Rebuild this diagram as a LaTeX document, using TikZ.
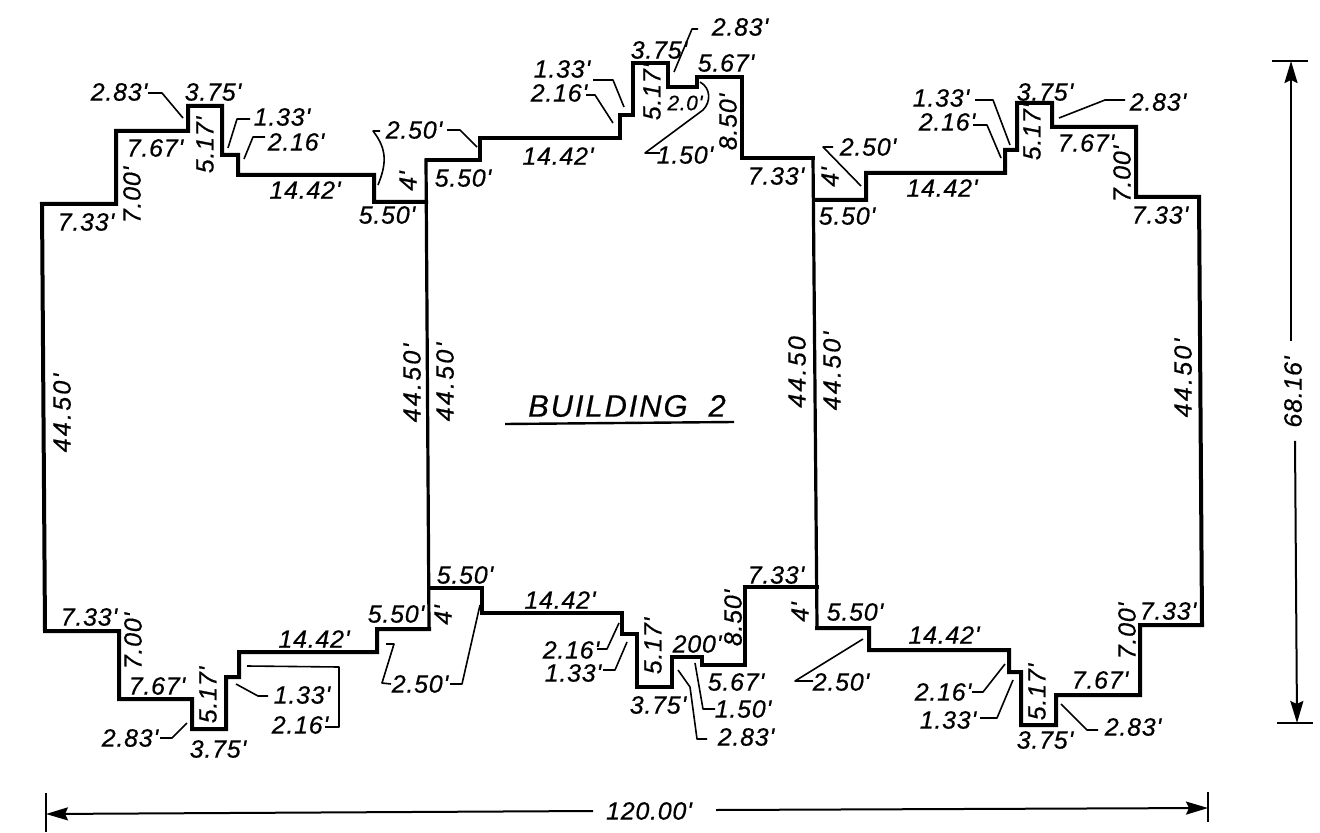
\documentclass[tikz,border=0pt]{standalone}
\usepackage{fontspec}
\usetikzlibrary{arrows.meta}
\newfontfamily\dimfont[LetterSpace=3,FakeBold=0.5]{Liberation Sans Italic}
\newfontfamily\dimwide[LetterSpace=9,FakeBold=0.5]{Liberation Sans Italic}
\newfontfamily\titlefont[LetterSpace=6,FakeBold=0.5]{Liberation Sans Italic}
\tikzset{
  wallthick/.style={line width=2pt,line join=miter,line cap=rect},
  wallmid/.style={line width=1.6pt,line join=miter,line cap=rect},
  wallinner/.style={line width=1.6pt,line cap=rect},
  leader/.style={line width=0.8pt,line join=round},
  dimline/.style={line width=1pt},
  dimtick/.style={line width=1.2pt},
  dimtip/.style={-{Stealth[length=11pt,width=6.5pt,inset=1.5pt]}},
  lab/.style={inner sep=0pt,font=\dimfont\fontsize{12.5}{12.5}\selectfont},
  rlab/.style={lab,rotate=90},
  rwide/.style={inner sep=0pt,rotate=90,font=\dimwide\fontsize{12.5}{12.5}\selectfont},
}
\newcommand{\lab}[4]{\node[lab] (#1) at (#2,#3) {#4};}
\newcommand{\rlab}[4]{\node[rlab] (#1) at (#2,#3) {#4};}
\newcommand{\rwlab}[4]{\node[rwide] (#1) at (#2,#3) {#4};}
\begin{document}
\begin{tikzpicture}[x=0.5pt,y=-0.5pt]
\useasboundingbox (0,0) rectangle (1320,833);
% outlines
\draw[wallthick] (426,202)--(374,202)--(374,175)--(238,175)--(238,155)--(222,155)--(222,106)--(188,106)--(188,131)--(116,131)--(116,204)--(42,204)--(45,631)--(119,631)--(119,699)--(192,699)--(192,729)--(226,729)--(226,677)--(239,677)--(239,652)--(377,652)--(377,629)--(429,629);
\draw[wallinner] (426,160)--(429,629);
\draw[wallmid] (427,160)--(480,160)--(480,138)--(620,138)--(620,115)--(633,115)--(633,63)--(668,63)--(668,87)--(697,87)--(697,77)--(742,77)--(742,158)--(813,158);
\draw[wallmid] (429,588)--(482,588)--(482,613)--(622,613)--(622,634)--(637,634)--(637,687)--(672,687)--(672,657)--(702,657)--(702,665)--(745,665)--(745,587)--(817,587);
\draw[wallinner] (813,158)--(817,628);
\draw[wallthick] (815,200)--(866,200)--(866,173)--(1005,173)--(1005,150)--(1017,150)--(1017,103)--(1052,103)--(1052,127)--(1136,127)--(1136,197)--(1199,197)--(1202,625)--(1140,625)--(1140,695)--(1056,695)--(1056,725)--(1021,725)--(1021,672)--(1009,672)--(1009,650)--(869,650)--(869,628)--(817,628);
% title
\node[inner sep=0pt,font=\titlefont\fontsize{15.5}{15.5}\selectfont] (title) at (627,406) {BUILDING\ \ 2};
\draw[line width=1.2pt] (505,424)--(734,422);
% top left labels
\lab{a1}{119}{92}{2.83'}
\lab{a2}{213}{92}{3.75'}
\lab{a3}{282}{117}{1.33'}
\lab{a4}{296}{142}{2.16'}
\lab{a5}{414}{130}{2.50'}
\lab{a6}{155}{148}{7.67'}
\rlab{a7}{205}{145}{5.17'}
\rlab{a8}{132}{195}{7.00'}
\lab{a9}{86}{222}{7.33'}
\lab{a10}{305}{190}{14.42'}
\lab{a11}{387}{215}{5.50'}
\rlab{a12}{408}{181}{4'}
\draw[leader] (148,93)--(162,93)--(183,118);
\draw[leader] (250,119)--(237,119)--(228,148);
\draw[leader] (265,137)--(253,137)--(244,159);
\draw[leader] (447,130)--(460,130)--(477,147);
\draw[leader] (380,131)--(373,131)..controls (388,150) and (386,165)..(378,185);
% top middle labels
\lab{b1}{562}{69}{1.33'}
\lab{b2}{559}{93}{2.16'}
\lab{b3}{659}{50}{3.75'}
\lab{b4}{740}{27}{2.83'}
\lab{b5}{726}{63}{5.67'}
\node[lab,font=\dimfont\fontsize{10.5}{10.5}\selectfont] (b6) at (685,103) {2.0'};
\rlab{b7}{652}{92}{5.17'}
\rlab{b8}{728}{122}{8.50'}
\lab{b9}{685}{155}{1.50'}
\lab{b10}{558}{156}{14.42'}
\lab{b11}{463}{178}{5.50'}
\lab{b12}{776}{176}{7.33'}
\rlab{b13}{830}{177}{4'}
\draw[leader] (593,80)--(613,80)--(624,107);
\draw[leader] (586,95)--(595,95)--(613,123);
\draw[leader] (698,29)--(692,29)--(674,72);
\draw[leader] (660,153)--(645,153)--(703,110)..controls (711,102) and (711,88)..(700,82);
% top right labels
\lab{c1}{868}{147}{2.50'}
\lab{c2}{847}{216}{5.50'}
\lab{c3}{942}{188}{14.42'}
\lab{c4}{941}{98}{1.33'}
\lab{c5}{947}{122}{2.16'}
\lab{c6}{1045}{92}{3.75'}
\lab{c7}{1158}{102}{2.83'}
\rlab{c8}{1032}{132}{5.17'}
\lab{c9}{1086}{143}{7.67'}
\rlab{c10}{1122}{174}{7.00'}
\lab{c11}{1160}{215}{7.33'}
\draw[leader] (833,147)--(823,147)--(861,186);
\draw[leader] (975,100)--(993,100)--(1010,145);
\draw[leader] (973,125)--(987,125)--(1001,158);
\draw[leader] (1125,100)--(1105,100)--(1059,118);
% long walls
\rwlab{d1}{62}{413}{44.50'}
\rwlab{d2}{412}{383}{44.50'}
\rwlab{d3}{445}{382}{44.50'}
\rwlab{d4}{797}{372}{44.50}
\rwlab{d5}{832}{371}{44.50'}
\rwlab{d6}{1183}{378}{44.50'}
% bottom left labels
\lab{e1}{89}{617}{7.33'}
\rlab{e2}{133}{641}{7.00'}
\lab{e3}{157}{686}{7.67'}
\rlab{e4}{208}{695}{5.17'}
\lab{e5}{314}{639}{14.42'}
\lab{e6}{396}{614}{5.50'}
\rlab{e7}{443}{615}{4'}
\lab{e8}{302}{695}{1.33'}
\lab{e9}{300}{725}{2.16'}
\lab{e10}{130}{738}{2.83'}
\lab{e11}{218}{749}{3.75'}
\lab{e12}{420}{684}{2.50'}
\draw[leader] (160,738)--(172,738)--(187,723);
\draw[leader] (268,696)--(258,696)--(236,684);
\draw[leader] (325,727)--(339,727)--(339,667)--(247,666);
\draw[leader] (386,644)--(394,644)--(382,683)--(391,684);
\draw[leader] (450,684)--(462,684)--(480,605);
% bottom middle labels
\lab{f1}{465}{575}{5.50'}
\lab{f2}{560}{600}{14.42'}
\lab{f3}{776}{575}{7.33'}
\rlab{f4}{800}{612}{4'}
\rlab{f5}{733}{618}{8.50'}
\rlab{f6}{653}{646}{5.17'}
\lab{f7}{697}{644}{200'}
\lab{f8}{736}{682}{5.67'}
\lab{f9}{743}{709}{1.50'}
\lab{f10}{746}{737}{2.83'}
\lab{f11}{658}{705}{3.75'}
\lab{f12}{571}{650}{2.16'}
\lab{f13}{573}{673}{1.33'}
\draw[leader] (597,649)--(607,649)--(619,623);
\draw[leader] (603,670)--(615,670)--(627,642);
\draw[leader] (707,739)--(697,739)--(690,687)--(678,670);
\draw[leader] (715,709)--(703,709)--(695,663);
\draw[leader] (813,681)--(795,681)--(863,639);
% bottom right labels
\lab{g1}{841}{682}{2.50'}
\lab{g2}{855}{612}{5.50'}
\lab{g3}{944}{635}{14.42'}
\lab{g4}{943}{692}{2.16'}
\lab{g5}{948}{720}{1.33'}
\rlab{g6}{1037}{692}{5.17'}
\lab{g7}{1045}{740}{3.75'}
\lab{g8}{1133}{727}{2.83'}
\lab{g9}{1100}{680}{7.67'}
\rlab{g10}{1127}{631}{7.00'}
\lab{g11}{1168}{611}{7.33'}
\draw[leader] (972,692)--(983,692)--(1005,664);
\draw[leader] (980,718)--(997,718)--(1013,680);
\draw[leader] (1098,730)--(1087,730)--(1061,704);
% overall dimensions
\node[rlab] (h) at (1293,392) {68.16'};
\coordinate (htop) at (1291,61);
\coordinate (hbot) at (1297,723);
\draw[dimtick] (1272,61)--(1308,61);
\draw[dimtick] (1277,723)--(1313,723);
\draw[dimline,dimtip] (h.east)++(-2,-15) -- (htop);
\draw[dimline,dimtip] (h.west)++(2,13) -- (hbot);
\node[lab] (w) at (649,811) {120.00'};
\coordinate (wl) at (46,814);
\coordinate (wr) at (1208,808);
\draw[dimtick] (46,793)--(46,832);
\draw[dimtick] (1208,792)--(1208,822);
\draw[dimline,dimtip] (593,811)--(wl);
\draw[dimline,dimtip] (716,810)--(wr);
\end{tikzpicture}
\end{document}
